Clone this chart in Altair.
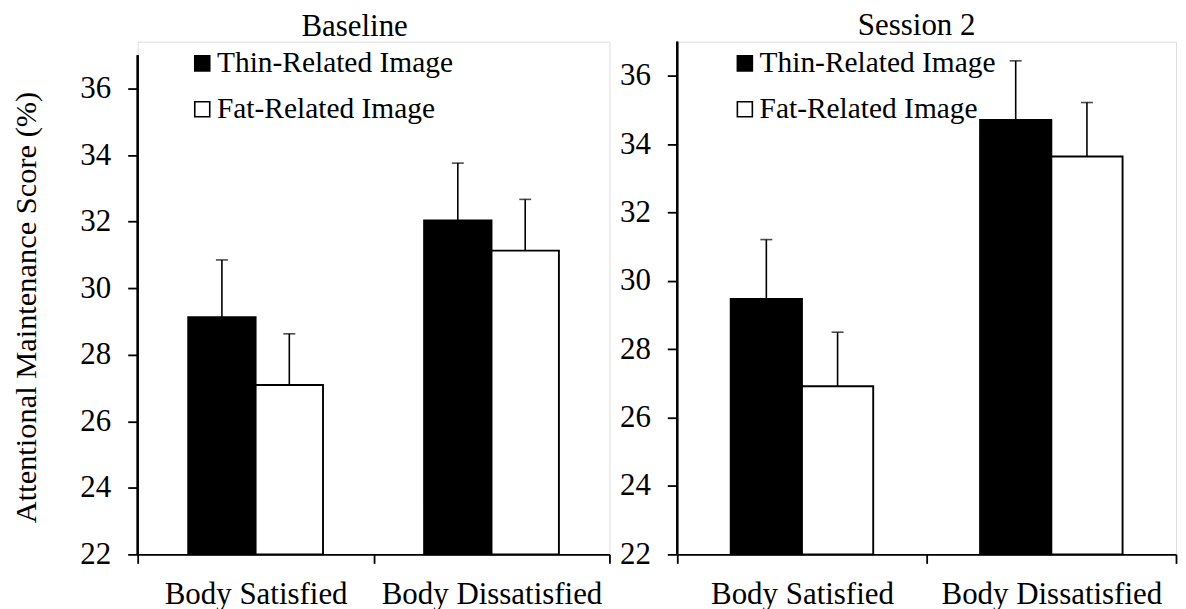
import altair as alt
import pandas as pd

categories = ["Body Satisfied", "Body Dissatisfied"]
images = ["Thin-Related Image", "Fat-Related Image"]
baseline_mean = [29.13, 27.09, 32.04, 31.13]
baseline_upper = [30.85, 28.63, 33.76, 32.67]
session2_mean = [29.47, 26.92, 34.71, 33.64]
session2_upper = [31.21, 28.50, 36.44, 35.22]
y_ticks = [22, 24, 26, 28, 30, 32, 34, 36]

FONT = "Liberation Serif"


def make_df(means, uppers):
    rows = []
    k = 0
    for c in categories:
        for im in images:
            rows.append({"cat": c, "img": im, "mean": means[k], "upper": uppers[k]})
            k += 1
    return pd.DataFrame(rows)


def panel(title, means, uppers, ymax, width, legend_x, legend_y, y_title, title_dx):
    df = make_df(means, uppers)
    base = alt.Chart(df)
    x = alt.X(
        "cat:N", sort=categories,
        scale=alt.Scale(paddingInner=0, paddingOuter=0),
        axis=alt.Axis(title=None, tickBand="extent", labelAngle=0, labelFont=FONT,
                      labelFontSize=31, labelColor="black", tickColor="black",
                      domainColor="black", tickSize=9, labelPadding=16,
                      domainWidth=1.8, tickWidth=1.8, labelLimit=0),
    )
    xo = alt.XOffset("img:N", sort=images,
                     scale=alt.Scale(paddingInner=0, paddingOuter=0.75))
    common = dict(values=y_ticks, grid=False, domain=False, labelFont=FONT,
                  labelFontSize=31, labelColor="black", tickColor="black",
                  tickSize=10, tickWidth=1.8, labelPadding=17)
    if y_title:
        yaxis = alt.Axis(title=y_title, titleFont=FONT, titleFontSize=30.5,
                         titleFontWeight="normal", titleColor="black",
                         titleX=-102, titleY=266, titleBaseline="alphabetic",
                         **common)
    else:
        yaxis = alt.Axis(title=None, **common)
    yscale = alt.Scale(domain=[22, ymax], nice=False, zero=False)

    bars = base.mark_bar(stroke="black", strokeWidth=1.9).encode(
        x=x, xOffset=xo,
        y=alt.Y("mean:Q", scale=yscale, axis=yaxis),
        y2=alt.datum(22),
        color=alt.Color(
            "img:N", sort=images,
            scale=alt.Scale(domain=images, range=["black", "white"]),
            legend=alt.Legend(title=None, orient="none", legendX=legend_x,
                              legendY=legend_y, symbolType="square",
                              symbolSize=225, symbolStrokeColor="black",
                              symbolStrokeWidth=1.6, labelFont=FONT,
                              labelFontSize=29.5, labelColor="black",
                              rowPadding=15, labelOffset=0, padding=0,
                              labelLimit=0),
        ),
    )
    errs = base.mark_rule(color="black", strokeWidth=1.6).encode(
        x=x, xOffset=xo, y=alt.Y("mean:Q", scale=yscale), y2="upper:Q"
    )
    caps = base.mark_tick(color="black", thickness=1.6, size=12, orient="horizontal").encode(
        x=x, xOffset=xo, y=alt.Y("upper:Q", scale=yscale)
    )
    yline = base.mark_rule(color="black", strokeWidth=1.8).encode(
        x=alt.value(0), y=alt.datum(22), y2=alt.datum(37)
    )
    return alt.layer(bars, errs, caps, yline).properties(
        width=width, height=514,
        title=alt.TitleParams(title, font=FONT, fontSize=31, fontWeight="normal",
                              color="black", anchor="middle", offset=-1, dx=title_dx),
    )


left = panel("Baseline", baseline_mean, baseline_upper, 37.41, 473, 50, 7,
             "Attentional Maintenance Score (%)", -19)
right = panel("Session 2", session2_mean, session2_upper, 37.0, 500, 53, 7, None, -10)

chart = alt.hconcat(left, right, spacing=7).resolve_scale(
    color="independent", y="independent", x="independent", xOffset="independent"
).resolve_legend(color="independent").properties(
    padding={"left": 3, "top": 0, "right": 0, "bottom": 0}
).configure_view(stroke=None).configure(background="white")

chart.save("out.html", embed_options={"renderer": "svg", "actions": False})
